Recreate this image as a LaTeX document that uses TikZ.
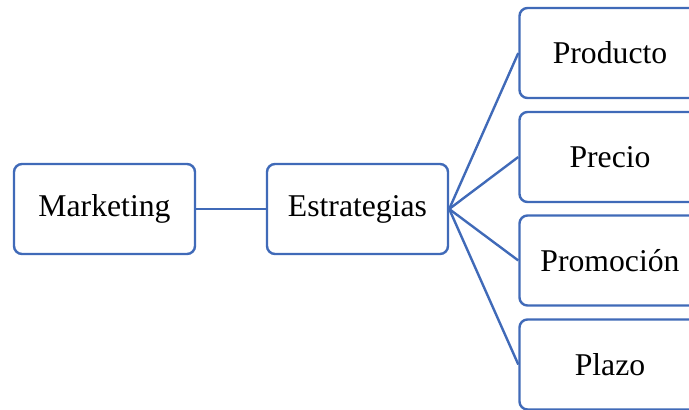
\documentclass[tikz,border=0pt]{standalone}
\usepackage{fontspec}
\setmainfont{Liberation Serif}
\definecolor{boxblue}{RGB}{64,106,184}
\begin{document}
\begin{tikzpicture}[x=1pt,y=-1pt,
  box/.style={draw=boxblue, line width=2.4pt, rounded corners=8pt, fill=white,
    minimum width=181pt, minimum height=90pt, inner sep=0pt,
    font=\fontsize{31.7}{38}\selectfont},
  link/.style={draw=boxblue, line width=2.4pt}]
\useasboundingbox (0,0) rectangle (689,410);
\clip (0,0) rectangle (689,410);
\node[box] (mkt) at (104.5,209) {Marketing};
\node[box] (est) at (357.5,209) {Estrategias};
\node[box] (prod) at (610,53) {Producto};
\node[box] (prec) at (610,157) {Precio};
\node[box] (prom) at (610,260.5) {Promoción};
\node[box] (plaz) at (610,364.5) {Plazo};
\draw[link] (mkt.east) -- (est.west);
\foreach \t in {prod,prec,prom,plaz}
  \draw[link] (est.east) -- (\t.west);
\end{tikzpicture}
\end{document}
